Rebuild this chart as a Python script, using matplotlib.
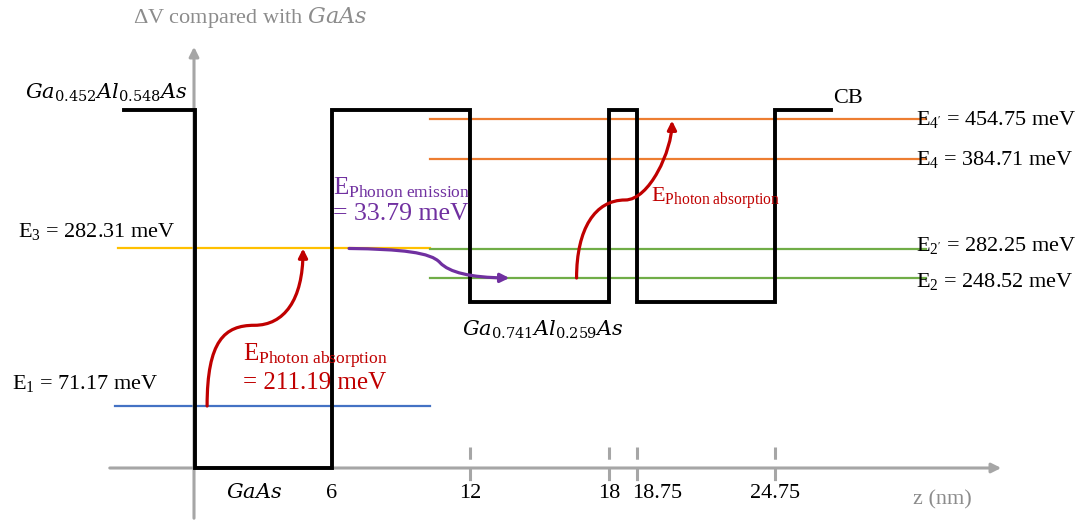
import numpy as np
import matplotlib
matplotlib.use('Agg')
import matplotlib.pyplot as plt
from matplotlib.path import Path
from matplotlib.patches import FancyArrowPatch
from matplotlib.transforms import blended_transform_factory

plt.rcParams['font.family'] = ['Liberation Serif', 'DejaVu Serif']
plt.rcParams['mathtext.fontset'] = 'custom'
plt.rcParams['mathtext.rm'] = 'Liberation Serif'
plt.rcParams['mathtext.it'] = 'Liberation Serif:italic'
plt.rcParams['mathtext.bf'] = 'Liberation Serif:bold'

# ---------------- data ----------------
z_ticks = [6, 12, 18, 18.75, 24.75]
z_tick_labels = ['6', '12', '18', '18.75', '24.75']
z_dashed = [12, 18, 18.75, 24.75]

# conduction band profile (z in nm, ΔV in meV)
prof_z = [-3.1, 0, 0, 6, 6, 12, 12, 18, 18, 18.75, 18.75, 24.75, 24.75, 27.2]
prof_v = [480, 480, 0, 0, 480, 480, 215, 215, 480, 480, 215, 215, 480, 480]

# energy levels
level_names = ['E1', 'E3', 'E2', "E2'", 'E4', "E4'"]
level_meV = [71.17, 282.31, 248.52, 282.25, 384.71, 454.75]
level_z0 = [-3.5, -3.37, 10.26, 10.26, 10.26, 10.26]
level_z1 = [10.26, 10.26, 31.3, 31.3, 31.3, 31.3]
level_colors = ['#4472C4', '#FFC000', '#70AD47', '#70AD47', '#ED7D31', '#ED7D31']

# schematic (non-linear) drawing scales
z_knots = [-10, 0, 6, 12, 18, 18.75, 24.75, 40]
x_knots = [-33, 195, 332, 470, 609, 637, 775, 1126]
v_knots = [-200, 0, 71.17, 248.52, 282.28, 384.71, 454.75, 480, 800]
py_knots = [618, 468, 406, 278, 248.5, 159, 119, 110, -82]

W, H = 1083, 521
fig = plt.figure(figsize=(W / 100, H / 100), dpi=100)
ax = fig.add_axes([0, 0, 1, 1])

yk = [H - p for p in py_knots]
ax.set_xscale('function', functions=(lambda z: np.interp(z, z_knots, x_knots),
                                      lambda x: np.interp(x, x_knots, z_knots)))
ax.set_yscale('function', functions=(lambda v: np.interp(v, v_knots, yk),
                                      lambda y: np.interp(y, yk, v_knots)))
ax.set_xlim(np.interp(0, x_knots, z_knots), np.interp(W, x_knots, z_knots))
ax.set_ylim(np.interp(0, yk, v_knots), np.interp(H, yk, v_knots))
ax.axis('off')

def P(x, y):
    return (x / W, 1 - y / H)

gray = '#A6A6A6'
tgray = '#8C8C8C'
FT = fig.transFigure

# axes arrows
ax.annotate('', xy=P(1004, 468), xytext=P(107, 468), xycoords='figure fraction',
            textcoords='figure fraction',
            arrowprops=dict(arrowstyle='-|>', color=gray, lw=2.2, mutation_scale=14))
ax.annotate('', xy=P(194, 44), xytext=P(194, 521), xycoords='figure fraction',
            textcoords='figure fraction',
            arrowprops=dict(arrowstyle='-|>', color=gray, lw=2.2, mutation_scale=14))

# energy levels
for v, z0, z1, c in zip(level_meV, level_z0, level_z1, level_colors):
    ax.plot([z0, z1], [v, v], color=c, lw=1.6, zorder=2)

# potential profile
ax.plot(prof_z, prof_v, color='black', lw=2.8, solid_joinstyle='miter', zorder=3)

# dashed tick marks
bt = blended_transform_factory(ax.transData, FT)
for z in z_dashed:
    ax.plot([z, z], [1 - 447 / H, 1 - 484 / H], transform=bt, color=gray,
            lw=2.2, dashes=(4, 3), zorder=1)

# tick labels
tick_dx = {'18.75': 20}
for z, lab in zip(z_ticks, z_tick_labels):
    ax.annotate(lab, xy=(z, 1 - 494 / H), xycoords=bt,
                xytext=(tick_dx.get(lab, 0) * 0.72, 0), textcoords='offset points',
                ha='center', va='center', fontsize=16)
ax.text(*P(254, 494), r'$GaAs$', transform=FT, ha='center', va='center',
        fontsize=15, math_fontfamily='dejavuserif')
ax.text(*P(913, 500), 'z (nm)', transform=FT, ha='left', va='center',
        fontsize=16, color=tgray)
ax.text(*P(133, 18), r'ΔV compared with $GaAs$', transform=FT, ha='left',
        va='center', fontsize=16, color=tgray, math_fontfamily='dejavuserif')

# material labels
ax.text(*P(25, 93), r'$Ga_{0.452}Al_{0.548}As$', transform=FT, ha='left',
        va='center', fontsize=15, math_fontfamily='dejavuserif')
ax.text(*P(462, 330), r'$Ga_{0.741}Al_{0.259}As$', transform=FT, ha='left',
        va='center', fontsize=15, math_fontfamily='dejavuserif')
ax.text(*P(833, 99), 'CB', transform=FT, ha='left', va='center', fontsize=16)

# level labels
ax.text(*P(12, 383), r'E$_1$ = 71.17 meV', transform=FT, ha='left',
        va='center', fontsize=16)
ax.text(*P(18, 232), r'E$_3$ = 282.31 meV', transform=FT, ha='left',
        va='center', fontsize=16)
right_labels = [r"E$_{4'}$ = 454.75 meV", r'E$_4$ = 384.71 meV',
                r"E$_{2'}$ = 282.25 meV", r'E$_2$ = 248.52 meV']
right_y = [120, 159, 245, 281]
for lab, y in zip(right_labels, right_y):
    ax.text(*P(916, y), lab, transform=FT, ha='left', va='center', fontsize=16)

# transition annotations
red = '#C00000'
purple = '#7030A0'
ax.text(*P(333, 188), r'E$_{\mathrm{Phonon\ emission}}$', transform=FT,
        ha='left', va='center', fontsize=18, color=purple)
ax.text(*P(333, 214), '= 33.79 meV', transform=FT, ha='left', va='center',
        fontsize=18.5, color=purple)
ax.text(*P(243, 356), r'E$_{\mathrm{Photon\ absorption}}$', transform=FT,
        ha='left', va='center', fontsize=18, color=red)
ax.text(*P(243, 383), '= 211.19 meV', transform=FT, ha='left', va='center',
        fontsize=18, color=red)
ax.text(*P(651, 198), r'E$_{\mathrm{Photon\ absorption}}$', transform=FT,
        ha='left', va='center', fontsize=16, color=red)

C4 = Path.CURVE4
def curved_arrow(pts, color):
    codes = [Path.MOVETO, C4, C4, C4, C4, C4, C4]
    arr = FancyArrowPatch(path=Path(pts, codes), arrowstyle='-|>', color=color,
                          lw=2.3, mutation_scale=13, zorder=4)
    ax.add_patch(arr)

# E1 -> E3 photon absorption
curved_arrow([(0.53, 71.17), (0.53, 162), (1.3, 183), (2.6, 183),
              (3.9, 183), (4.73, 218), (4.73, 282.31)], red)
# E2 -> E4' photon absorption
curved_arrow([(16.6, 248.52), (16.6, 305), (17.4, 337.8), (18.43, 337.8),
              (19.3, 337.8), (20.27, 400), (20.27, 452)], red)
# E3 -> E2 phonon emission
curved_arrow([(6.74, 282.31), (9.0, 281.5), (10.3, 278), (10.7, 266),
              (11.1, 255), (12.0, 249.0), (13.7, 248.52)], purple)

fig.savefig('out.png', dpi=100)
